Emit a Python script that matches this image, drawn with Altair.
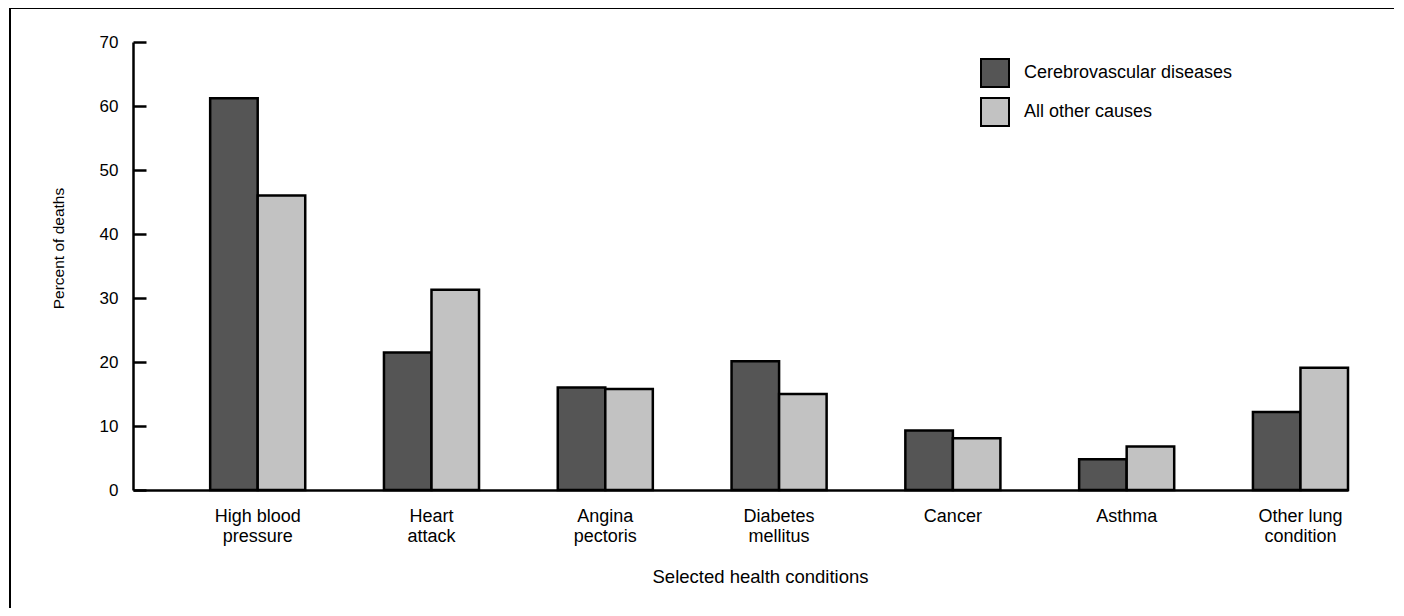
import altair as alt
import pandas as pd

conditions = ["High blood\npressure", "Heart\nattack", "Angina\npectoris",
              "Diabetes\nmellitus", "Cancer", "Asthma", "Other lung\ncondition"]
causes = ["Cerebrovascular diseases", "All other causes"]
cerebrovascular = [61.2, 21.5, 16.0, 20.1, 9.3, 4.8, 12.2]
all_other = [46.0, 31.3, 15.8, 15.0, 8.1, 6.8, 19.1]
y_ticks = [0, 10, 20, 30, 40, 50, 60, 70]

rows = []
for cond, a, b in zip(conditions, cerebrovascular, all_other):
    rows.append({"condition": cond, "cause": causes[0], "pct": a})
    rows.append({"condition": cond, "cause": causes[1], "pct": b})
df = pd.DataFrame(rows)

FONT = "Liberation Sans"

bars = alt.Chart(df).mark_bar(stroke="black", strokeWidth=2.5).encode(
    x=alt.X(
        "condition:N", sort=conditions,
        scale=alt.Scale(paddingInner=0.453, paddingOuter=0.222, align=1),
        axis=alt.Axis(
            title="Selected health conditions", labelAngle=0,
            labelExpr="split(datum.label, '\\n')", ticks=False,
            domainColor="black", domainWidth=2.5,
            labelFont=FONT, labelFontSize=18, labelColor="black",
            labelPadding=17, labelLineHeight=20,
            titleFont=FONT, titleFontSize=18.5, titleFontWeight="normal",
            titleColor="black", titlePadding=22, titleX=627,
            titleAlign="center",
        ),
    ),
    xOffset=alt.XOffset("cause:N", sort=causes,
                        scale=alt.Scale(paddingInner=0, paddingOuter=0)),
    y=alt.Y(
        "pct:Q",
        scale=alt.Scale(domain=[0, 70], nice=False),
        axis=alt.Axis(
            title="Percent of deaths", values=y_ticks, grid=False,
            domainColor="black", domainWidth=2.5,
            tickColor="black", tickWidth=2.5, tickSize={"expr": "-13"},
            labelFont=FONT, labelFontSize=17, labelColor="black",
            labelPadding=28,
            titleFont=FONT, titleFontSize=15.5, titleFontWeight="normal",
            titleColor="black", titleX=-75, titleY=206,
            titleAlign="center", titleBaseline="middle", titleAngle=-90,
        ),
    ),
    color=alt.Color(
        "cause:N", sort=causes,
        scale=alt.Scale(domain=causes, range=["#555555", "#c2c2c2"]),
        legend=alt.Legend(
            title=None, orient="none", legendX=847, legendY=16, padding=0,
            symbolType="square", symbolSize=784, symbolStrokeColor="black",
            symbolStrokeWidth=2, symbolOpacity=1,
            labelFont=FONT, labelFontSize=18, labelColor="black",
            labelOffset=14, rowPadding=3, labelLimit=0,
        ),
    ),
)

# decorative border around the whole figure, as in the printed original
frame = alt.Chart(alt.Data(values=[{}])).mark_rect(
    fill=None, stroke="black", strokeWidth=2
).encode(
    x=alt.value(-123), x2=alt.value(1262),
    y=alt.value(-34), y2=alt.value(580),
)

chart = alt.layer(bars, frame).properties(
    width=1215, height=448,
    autosize=alt.AutoSizeParams(type="none"),
    padding={"left": 125, "top": 34, "right": 46, "bottom": 118},
).configure(background="white").configure_view(stroke=None)

chart.save("out.html", embed_options={"renderer": "svg", "actions": False})
